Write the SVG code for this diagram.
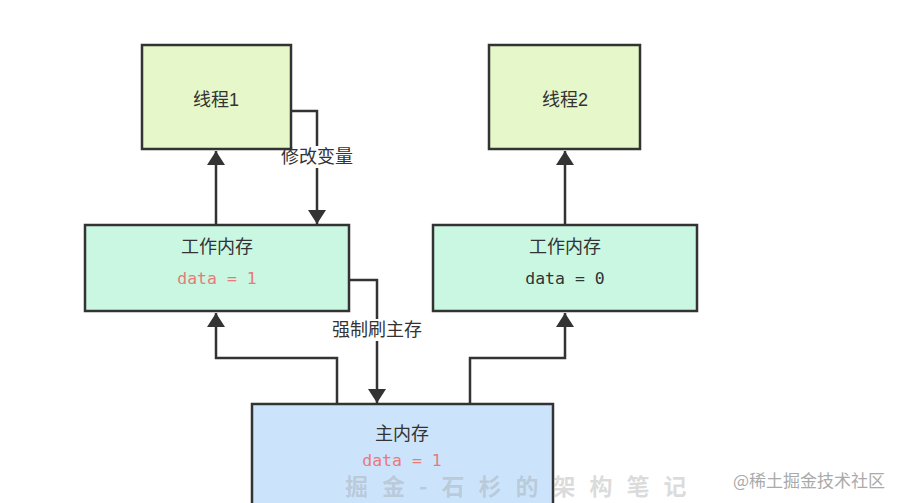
<svg xmlns="http://www.w3.org/2000/svg" width="899" height="503" viewBox="0 0 899 503">
<defs>
<style>
.box{stroke:#333;stroke-width:2.5}
.thread{fill:#e6f7c9}
.work{fill:#c9f7e2}
.main{fill:#cce4fb}
.t{font-family:"Liberation Sans","Noto Sans CJK SC",sans-serif;font-size:18px;fill:#333;text-anchor:middle;dominant-baseline:central}
.d{font-family:"DejaVu Sans Mono",monospace;font-size:16.5px;text-anchor:middle;dominant-baseline:central}
.red{fill:#e87a7a}
.dark{fill:#333}
.conn{fill:none;stroke:#333;stroke-width:2.5}
.lbl{font-family:"Liberation Sans","Noto Sans CJK SC",sans-serif;font-size:18px;fill:#333;text-anchor:middle;dominant-baseline:central}
</style>
<marker id="arr" viewBox="0 0 14 18" refX="14" refY="9" markerWidth="14" markerHeight="18" markerUnits="userSpaceOnUse" orient="auto">
<path d="M0,0 L14,9 L0,18 Z" fill="#333"/>
</marker>
</defs>
<rect width="899" height="503" fill="#ffffff"/>

<g id="connectors">
<path class="conn" d="M216,225 V151" marker-end="url(#arr)"/>
<path class="conn" d="M290,111 H317 V224" marker-end="url(#arr)"/>
<path class="conn" d="M565,225 V151" marker-end="url(#arr)"/>
<path class="conn" d="M349,280 H377 V403" marker-end="url(#arr)"/>
<path class="conn" d="M337,404 V358 H216 V313" marker-end="url(#arr)"/>
<path class="conn" d="M470,404 V358 H565 V313" marker-end="url(#arr)"/>
<rect x="277" y="146" width="80" height="22" fill="#fff"/>
<text class="lbl" x="317" y="157">修改变量</text>
<rect x="327" y="319" width="100" height="22" fill="#fff"/>
<text class="lbl" x="377" y="330">强制刷主存</text>
</g>

<g id="thread1">
<rect class="box thread" x="142" y="45" width="149" height="104"/>
<text class="t" x="216" y="100">线程1</text>
</g>

<g id="thread2">
<rect class="box thread" x="489" y="45" width="151" height="104"/>
<text class="t" x="565" y="100">线程2</text>
</g>

<g id="work1">
<rect class="box work" x="85" y="225" width="264" height="86"/>
<text class="t" x="217" y="247">工作内存</text>
<text class="d red" x="217" y="278">data = 1</text>
</g>

<g id="work2">
<rect class="box work" x="433" y="225" width="264" height="86"/>
<text class="t" x="565" y="247">工作内存</text>
<text class="d dark" x="565" y="278">data = 0</text>
</g>

<g id="mainmem">
<rect class="box main" x="252" y="404" width="301" height="110"/>
<text class="t" x="402" y="434">主内存</text>
<text class="d red" x="402" y="460">data = 1</text>
</g>

<g id="watermarks">
<text x="345" y="495" font-family="'Noto Sans CJK SC',sans-serif" font-size="23" letter-spacing="14" fill="#999" fill-opacity="0.35" font-weight="bold">掘金-石杉的架构笔记</text>
<text x="733" y="487" font-family="'Noto Sans CJK SC',sans-serif" font-size="17" fill="#aaa">@稀土掘金技术社区</text>
</g>
</svg>
